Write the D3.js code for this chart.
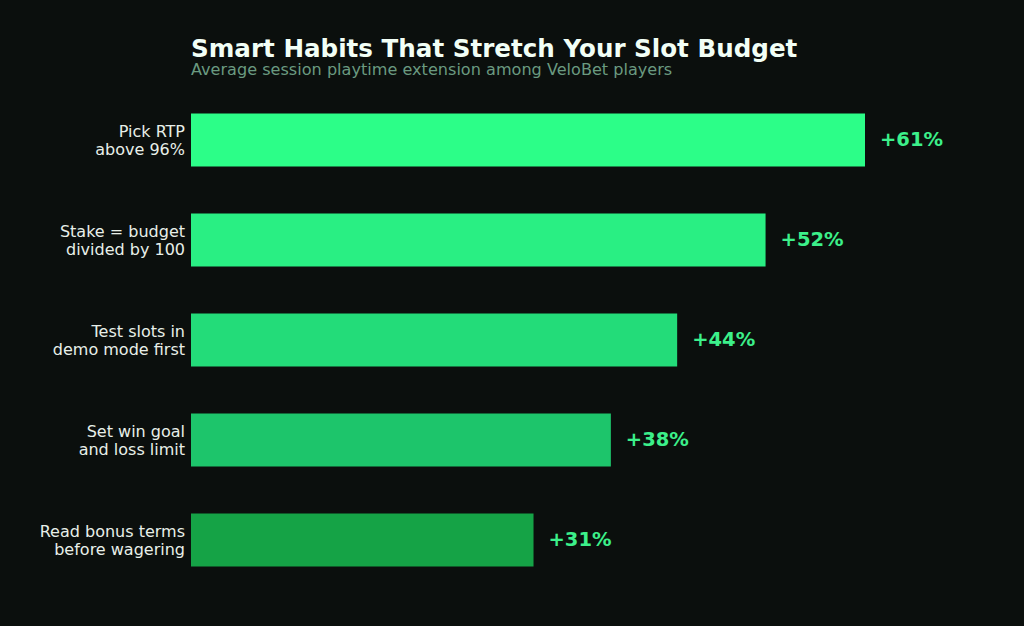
<!DOCTYPE html>
<html><head><meta charset="utf-8">
<script src="https://cdn.jsdelivr.net/npm/d3@7"></script>
<style>html,body{margin:0;background:#0b0f0d;}svg{display:block;font-family:"DejaVu Sans",sans-serif;}</style>
</head><body><svg id="c" width="1024" height="626"></svg>
<script>
const categories = [["Pick RTP","above 96%"],["Stake = budget","divided by 100"],["Test slots in","demo mode first"],["Set win goal","and loss limit"],["Read bonus terms","before wagering"]];
const values = [61,52,44,38,31];
const colors = ["#2cfe88","#29ef83","#23dc79","#1dc56b","#15a346"];
const svg = d3.select("#c");
svg.append("rect").attr("width",1024).attr("height",626).attr("fill","#0b0f0d");
const x = d3.scaleLinear().domain([0,61]).range([191,865]);
const y = d3.scaleBand().domain(d3.range(values.length)).range([90,590]).paddingInner(0.47).paddingOuter(0.235);
svg.append("text").attr("x",191).attr("y",57).attr("fill","#f2fff6").attr("font-size",24.6).attr("font-weight","bold").text("Smart Habits That Stretch Your Slot Budget");
svg.append("text").attr("x",191).attr("y",75).attr("fill","#6a9a80").attr("font-size",16.1).text("Average session playtime extension among VeloBet players");
const g = svg.selectAll("g.bar").data(values).join("g");
g.append("rect").attr("x",x(0)).attr("y",(d,i)=>y(i)).attr("width",d=>x(d)-x(0)).attr("height",y.bandwidth()).attr("fill",(d,i)=>colors[i]);
g.append("text").attr("x",d=>x(d)+15).attr("y",(d,i)=>y(i)+y.bandwidth()/2+6).attr("fill","#3cf08a").attr("font-size",19.5).attr("font-weight","bold").text(d=>"+"+d+"%");
g.each(function(d,i){
  const t=d3.select(this).append("text").attr("text-anchor","end").attr("fill","#e8efe9").attr("font-size",16);
  categories[i].forEach((l,k)=>t.append("tspan").attr("x",185).attr("y",y(i)+y.bandwidth()/2-3+k*18).text(l));
});
</script></body></html>
